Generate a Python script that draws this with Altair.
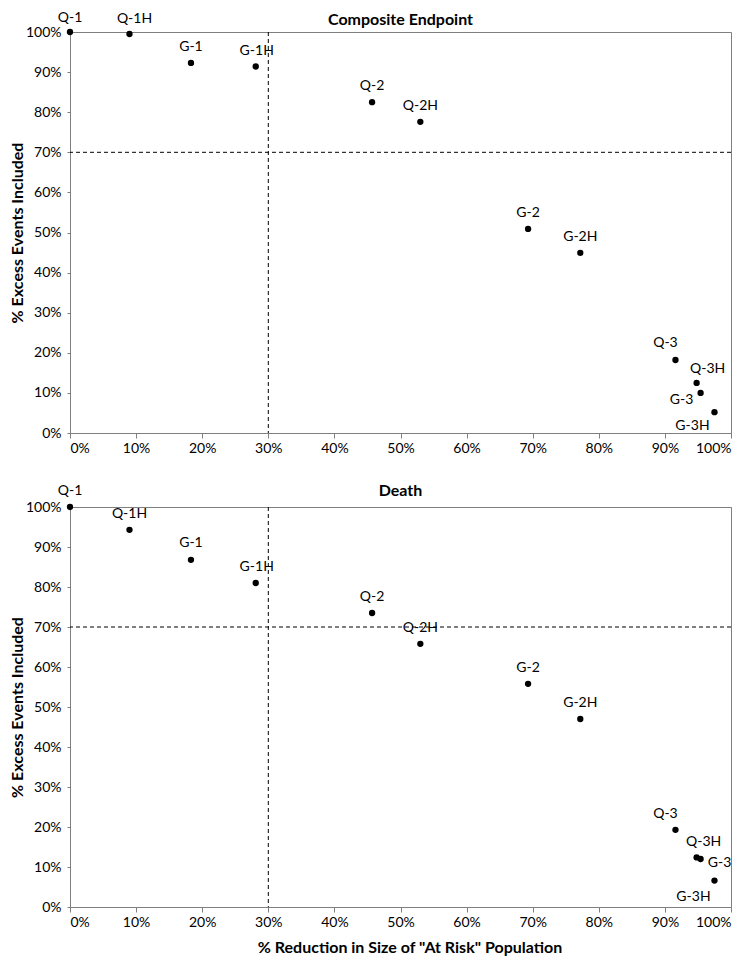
import altair as alt
import pandas as pd

# ---- data ----
labels = ["Q-1", "Q-1H", "G-1", "G-1H", "Q-2", "Q-2H", "G-2", "G-2H", "Q-3", "Q-3H", "G-3", "G-3H"]
reduction_pct = [0.0, 9.0, 18.3, 28.1, 45.7, 53.0, 69.3, 77.2, 91.6, 94.8, 95.4, 97.5]
composite_pct = [100.0, 99.5, 92.3, 91.4, 82.5, 77.6, 50.9, 44.9, 18.2, 12.5, 10.0, 5.2]
death_pct = [100.0, 94.3, 86.8, 81.0, 73.5, 65.8, 55.8, 47.0, 19.3, 12.4, 12.0, 6.6]

panel_titles = ["Composite Endpoint", "Death"]
x_title = '% Reduction in Size of "At Risk" Population'
y_title = "% Excess Events Included"

x_threshold_pct = 30
y_threshold_pct = 70

tick_pct = [0, 10, 20, 30, 40, 50, 60, 70, 80, 90, 100]

# ---- label placement (styling, kept apart from the data) ----
offsets_composite = {
    "Q-1": (0, -14), "Q-1H": (5, -15), "G-1": (0, -16), "G-1H": (1, -15),
    "Q-2": (0, -16), "Q-2H": (0, -16), "G-2": (0, -16), "G-2H": (0, -16),
    "Q-3": (-10, -17), "Q-3H": (11, -14), "G-3": (-19, 7), "G-3H": (-22, 14),
}
offsets_death = {
    "Q-1": (0, -16), "Q-1H": (0, -16), "G-1": (0, -17), "G-1H": (1, -16),
    "Q-2": (0, -16), "Q-2H": (0, -16), "G-2": (0, -16), "G-2H": (0, -16),
    "Q-3": (-10, -16), "Q-3H": (7, -15), "G-3": (19, 4), "G-3H": (-21, 16),
}

FONT = "Lato"
W = 661


def panel(values, title, offsets, show_xtitle, height, title_dy):
    df = pd.DataFrame({
        "label": labels,
        "reduction": reduction_pct,
        "included": values,
    })
    x = alt.X(
        "reduction:Q",
        scale=alt.Scale(domain=[0, 100], nice=False, zero=False),
        axis=alt.Axis(
            values=tick_pct, labelExpr="datum.value + '%'", grid=False, labelOverlap=False,
            title=x_title if show_xtitle else None,
            tickSize=5, labelPadding=3, titlePadding=10, titleFontSize=16,
            titleX=W / 2 + 9,
        ),
    )
    y = alt.Y(
        "included:Q",
        scale=alt.Scale(domain=[0, 100], nice=False, zero=False),
        axis=alt.Axis(
            values=tick_pct, labelExpr="datum.value + '%'", grid=False, labelOverlap=False,
            title=y_title,
            tickSize=3, labelPadding=6, titlePadding=0, titleFontSize=16,
        ),
    )
    base = alt.Chart(df)
    points = base.mark_point(filled=True, color="black", size=40, opacity=1).encode(x=x, y=y)

    vrule = alt.Chart(pd.DataFrame({"reduction": [x_threshold_pct]})).mark_rule(
        color="black", strokeDash=[4, 3], strokeWidth=1
    ).encode(x=x)
    hrule = alt.Chart(pd.DataFrame({"included": [y_threshold_pct]})).mark_rule(
        color="black", strokeDash=[4, 3], strokeWidth=1
    ).encode(y=y)

    groups = {}
    for lab, off in offsets.items():
        groups.setdefault(off, []).append(lab)
    texts = []
    for (dx, dy), labs in groups.items():
        texts.append(
            base.transform_filter(alt.FieldOneOfPredicate(field="label", oneOf=labs))
            .mark_text(dx=dx, dy=dy, fontSize=14, font=FONT, color="black", baseline="middle")
            .encode(x=x, y=y, text="label:N")
        )

    title_mark = alt.Chart(pd.DataFrame({"t": [title]})).mark_text(
        fontSize=16, fontWeight="bold", font=FONT, color="black", baseline="middle", align="center"
    ).encode(x=alt.value(W / 2), y=alt.value(title_dy), text="t:N")

    return alt.layer(points, vrule, hrule, *texts, title_mark).properties(width=W, height=height)


top = panel(composite_pct, panel_titles[0], offsets_composite, False, 401, -12)
bottom = panel(death_pct, panel_titles[1], offsets_death, True, 400, -16)

chart = alt.vconcat(top, bottom, spacing=26).configure_view(
    stroke="#7f7f7f", strokeWidth=1
).configure_axis(
    domainColor="#7f7f7f", tickColor="#7f7f7f", labelFont=FONT, titleFont=FONT,
    labelFontSize=14, titleFontWeight="bold", labelColor="black", titleColor="black",
).properties(padding={"left": 0, "top": 2, "right": 5, "bottom": 3})

chart.save("out.html", embed_options={"renderer": "svg", "actions": False})
